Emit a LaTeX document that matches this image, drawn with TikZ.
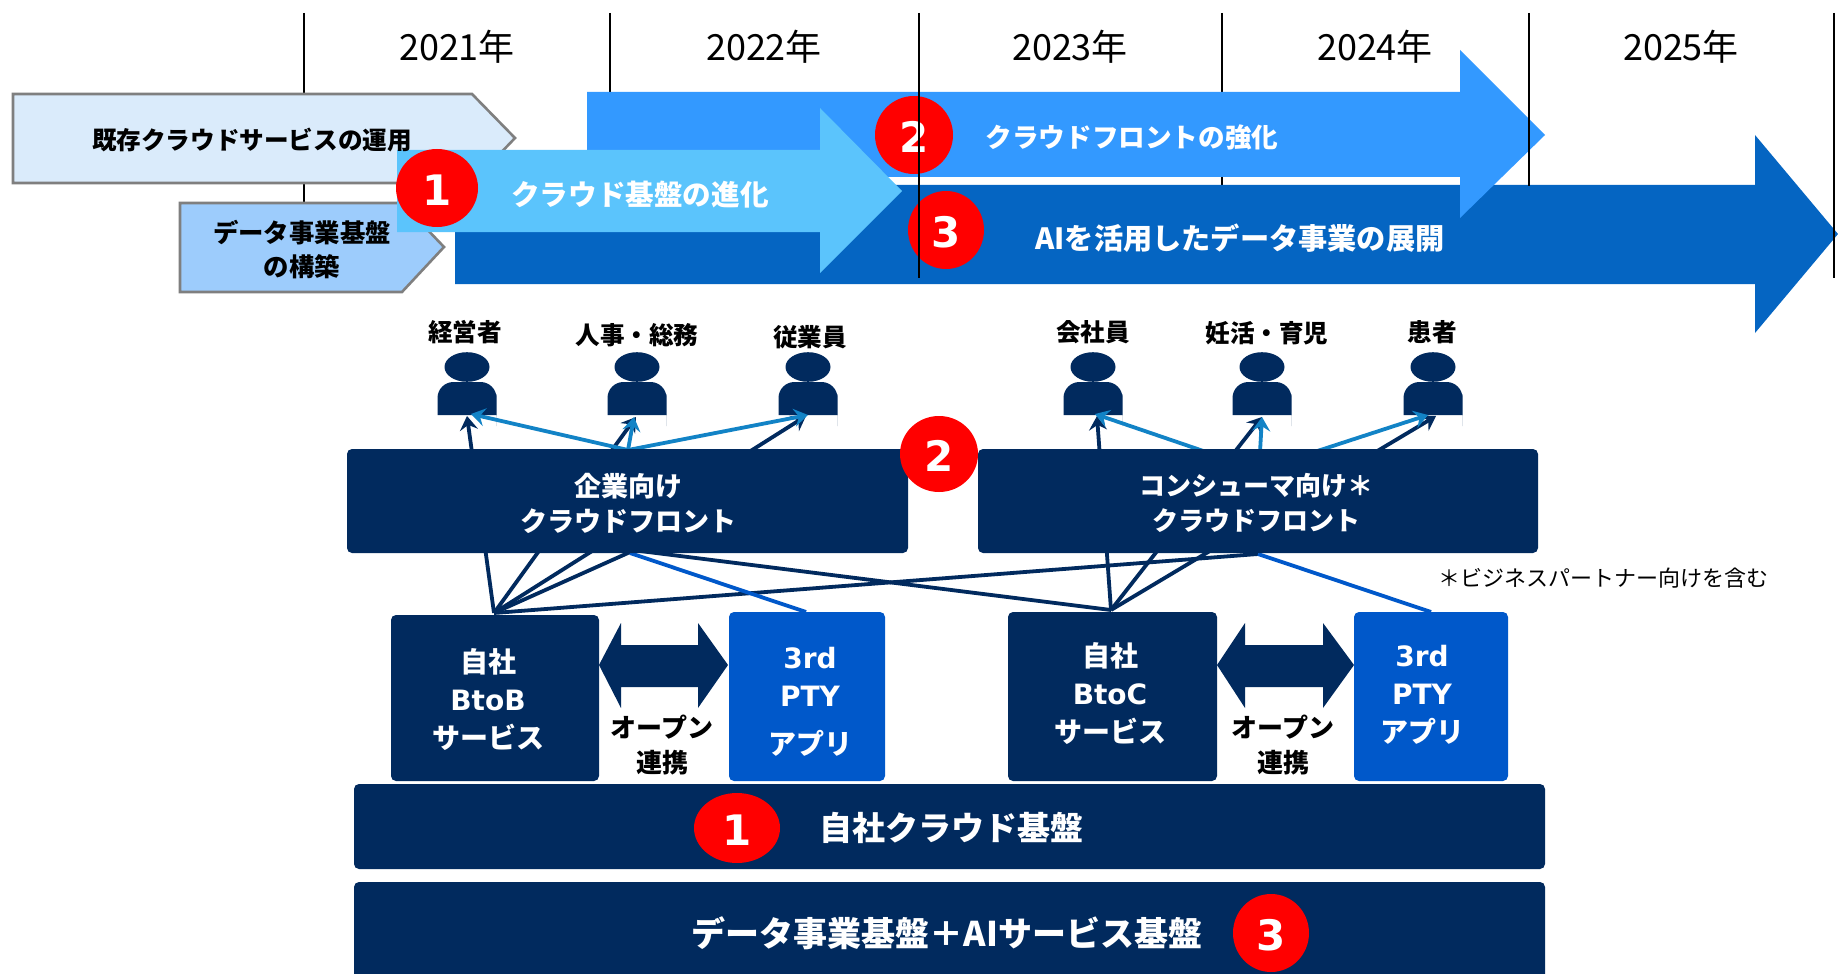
\documentclass[tikz,border=0pt]{standalone}
\usepackage{fontspec}
\setmainfont{Noto Sans CJK JP}
\newfontfamily\lat{DejaVu Sans}
\usetikzlibrary{arrows.meta}
\definecolor{navy}{HTML}{012A5E}
\definecolor{pty}{HTML}{0058CA}
\definecolor{lightarr}{HTML}{1283C6}
\definecolor{redc}{HTML}{FF0000}
\definecolor{aone}{HTML}{5BC4FC}
\definecolor{atwo}{HTML}{3399FF}
\definecolor{athree}{HTML}{0565C2}
\definecolor{boxlight}{HTML}{DAEBFB}
\definecolor{boxdata}{HTML}{9DCCFC}
\definecolor{edgegray}{HTML}{7F7F7F}
\begin{document}
\begin{tikzpicture}[x=0.5pt,y=-0.5pt,
  yearline/.style={black,line width=0.75pt},
  yearlbl/.style={font=\fontsize{18pt}{20pt}\selectfont,inner sep=0pt},
  wtxt/.style={text=white,font=\bfseries,align=center,inner sep=0pt},
  btxt/.style={text=black,font=\bfseries,align=center,inner sep=0pt},
  redmark/.style={fill=redc,draw=none},
  num/.style={text=white,font=\lat\bfseries\fontsize{21pt}{22pt}\selectfont,inner sep=0pt},
  navybox/.style={fill=navy,rounded corners=2.5pt},
  ptybox/.style={fill=pty,rounded corners=2.5pt},
  darkln/.style={draw=navy,line width=1.9pt},
  blueln/.style={draw=pty,line width=1.9pt},
  darkarr/.style={darkln,-{Stealth[length=7pt,width=9pt,inset=2.5pt]}},
  lightarr/.style={draw=lightarr,line width=1.9pt,-{Stealth[length=7pt,width=9pt,inset=2.5pt]}},
  person/.pic={
    \fill[navy] (0,-48) ellipse [x radius=11.25pt, y radius=7.4pt];
    \fill[navy] (-29.5,0) -- (-29.5,-5) [rounded corners=8pt] -- (-29.5,-33) -- (29.5,-33) -- (29.5,-5) [sharp corners] -- (29.5,0) -- cycle;
  }
]
\useasboundingbox (0,0) rectangle (1838,974);
\fill[white] (0,0) rectangle (1838,974);

% ---------- year lines behind ----------
\draw[yearline] (304,13) -- (304,250);
\draw[yearline] (610,13) -- (610,95);
\draw[yearline] (1222,13) -- (1222,186);

% ---------- big arrows ----------
\fill[athree] (455,185) -- (1755,185) -- (1755,135) -- (1838,234) -- (1755,333) -- (1755,284) -- (455,284) -- cycle;
\fill[atwo] (587,92) -- (1460,92) -- (1460,50) -- (1545,135) -- (1460,218) -- (1460,177) -- (587,177) -- cycle;
\filldraw[fill=boxlight,draw=edgegray,line width=1.3pt] (13,94) -- (472,94) -- (515,138) -- (472,183) -- (13,183) -- cycle;
\filldraw[fill=boxdata,draw=edgegray,line width=1.3pt] (180,203) -- (402,203) -- (444,247) -- (402,292) -- (180,292) -- cycle;
\fill[aone] (397,150) -- (820,150) -- (820,108) -- (902,191) -- (820,273) -- (820,232) -- (397,232) -- cycle;

\node[btxt,font=\bfseries\fontsize{12.3pt}{15pt}\selectfont] (tOps) at (252,140) {既存クラウドサービスの運用};
\node[btxt,font=\bfseries\fontsize{12.7pt}{17pt}\selectfont] (tData) at (302,250) {データ事業基盤\\の構築};
\node[wtxt,font=\bfseries\fontsize{14.3pt}{16pt}\selectfont] (tA1) at (640,195) {クラウド基盤の進化};
\node[wtxt,font=\bfseries\fontsize{13.3pt}{16pt}\selectfont] (tA2) at (1132,137) {クラウドフロントの強化};
\node[wtxt,font=\bfseries\fontsize{14.6pt}{16pt}\selectfont] (tA3) at (1240,238) {AIを活用したデータ事業の展開};

\fill[redmark] (437,188) ellipse [x radius=20.5pt, y radius=19.5pt];
\node[num] (n1a) at (437,190) {1};
\fill[redmark] (914,135) ellipse [x radius=19.5pt, y radius=19.5pt];
\node[num] (n2a) at (914,137) {2};
\fill[redmark] (946,230) ellipse [x radius=19pt, y radius=19.5pt];
\node[num] (n3a) at (946,232) {3};

% ---------- year lines on top ----------
\draw[yearline] (919,13) -- (919,278);
\draw[yearline] (1529,13) -- (1529,186);
\draw[yearline] (1834,13) -- (1834,278);

\node[yearlbl] (y2021) at (457,47) {2021年};
\node[yearlbl] (y2022) at (764,47) {2022年};
\node[yearlbl] (y2023) at (1070,47) {2023年};
\node[yearlbl] (y2024) at (1375,47) {2024年};
\node[yearlbl] (y2025) at (1681,47) {2025年};

% ---------- persons ----------
\coordinate (pA) at (467,415);
\coordinate (pB) at (637,415);
\coordinate (pC) at (808,415);
\coordinate (pD) at (1093,415);
\coordinate (pE) at (1262,415);
\coordinate (pF) at (1433,415);
\foreach \p in {pA,pB,pC,pD,pE,pF} { \pic at (\p) {person}; }
\node[btxt,font=\bfseries\fontsize{12.3pt}{14pt}\selectfont] (lA) at (465,332) {経営者};
\node[btxt,font=\bfseries\fontsize{12.3pt}{14pt}\selectfont] (lB) at (637,335) {人事・総務};
\node[btxt,font=\bfseries\fontsize{12.3pt}{14pt}\selectfont] (lC) at (810,337) {従業員};
\node[btxt,font=\bfseries\fontsize{12.3pt}{14pt}\selectfont] (lD) at (1093,332) {会社員};
\node[btxt,font=\bfseries\fontsize{12.3pt}{14pt}\selectfont] (lE) at (1267,333) {妊活・育児};
\node[btxt,font=\bfseries\fontsize{12.3pt}{14pt}\selectfont] (lF) at (1432,332) {患者};

% ---------- hubs and tips ----------
\coordinate (hubB) at (494,613);
\coordinate (hubC) at (1111,610);
\coordinate (hubE) at (628,450);
\coordinate (hubK) at (1259,470);
\coordinate (eB) at (640,551);
\coordinate (eX) at (657,540);
\coordinate (eP) at (630,553);
\coordinate (kB) at (1258,554);
\coordinate (ptyA) at (806,612);
\coordinate (ptyB) at (1431,612);
\coordinate (tA1) at (467,416);
\coordinate (tA2) at (471,414);
\coordinate (tB1) at (636,417);
\coordinate (tB2) at (634,417);
\coordinate (tC1) at (806,416);
\coordinate (tC2) at (808,415);
\coordinate (tD1) at (1097,416);
\coordinate (tD2) at (1095,414);
\coordinate (tE1) at (1262,417);
\coordinate (tE2) at (1262,417);
\coordinate (tF1) at (1436,416);
\coordinate (tF2) at (1428,415);

% connectors (behind the boxes)
\draw[darkln] (hubB) -- (eX);
\draw[darkln] (hubB) -- (kB);
\draw[darkln] (eB) -- (hubC);
\draw[blueln] (eP) -- (ptyA);
\draw[blueln] (kB) -- (ptyB);
\draw[darkarr] (hubB) -- (tA1);
\draw[darkarr] (hubB) -- (tB1);
\draw[darkarr] (hubB) -- (tC1);
\draw[lightarr] (hubE) -- (tA2);
\draw[lightarr] (hubE) -- (tB2);
\draw[lightarr] (hubE) -- (tC2);
\draw[darkarr] (hubC) -- (tD1);
\draw[darkarr] (hubC) -- (tE1);
\draw[darkarr] (hubC) -- (tF1);
\draw[lightarr] (hubK) -- (tD2);
\draw[lightarr] (hubK) -- (tE2);
\draw[lightarr] (hubK) -- (tF2);

% ---------- cloud front boxes ----------
\fill[navybox] (347,449) rectangle (908,553);
\node[wtxt,font=\bfseries\fontsize{13.5pt}{17.5pt}\selectfont] (cfE) at (628,503) {企業向け\\クラウドフロント};
\fill[navybox] (978,449) rectangle (1538,553);
\node[wtxt,font=\bfseries\fontsize{13pt}{17.5pt}\selectfont] (cfC) at (1256,503) {コンシューマ向け＊\\クラウドフロント};
\fill[redmark] (939,454) ellipse [x radius=19.5pt, y radius=19pt];
\node[num] (n2b) at (939,456) {2};
\node[anchor=west,inner sep=0pt,font=\fontsize{11pt}{13pt}\selectfont] (note) at (1438,578) {＊ビジネスパートナー向けを含む};

% ---------- service boxes ----------
\fill[navybox] (391,615) rectangle (599,781);
\node[wtxt,font=\bfseries\fontsize{14pt}{19pt}\selectfont] (svB) at (488,700) {自社\\{\lat BtoB}\\サービス};
\fill[ptybox] (729,612) rectangle (885,781);
\node[wtxt,font=\bfseries\fontsize{14pt}{19pt}\selectfont] (ptA) at (810,702) {{\lat 3rd}\\{\lat PTY}\\[5pt]アプリ};
\fill[navybox] (1008,612) rectangle (1217,781);
\node[wtxt,font=\bfseries\fontsize{14pt}{19pt}\selectfont] (svC) at (1110,694) {自社\\{\lat BtoC}\\サービス};
\fill[ptybox] (1354,612) rectangle (1508,781);
\node[wtxt,font=\bfseries\fontsize{14pt}{19pt}\selectfont] (ptB) at (1422,695) {{\lat 3rd}\\{\lat PTY}\\アプリ};

% open-link double arrows
\fill[navy] (599,665) -- (621,623) -- (621,645) -- (698,645) -- (698,623) -- (728,665) -- (698,708) -- (698,687) -- (621,687) -- (621,708) -- cycle;
\fill[navy] (1217,665) -- (1245,623) -- (1245,645) -- (1323,645) -- (1323,623) -- (1354,665) -- (1323,708) -- (1323,687) -- (1245,687) -- (1245,708) -- cycle;
\node[btxt,font=\bfseries\fontsize{13pt}{17.5pt}\selectfont] (olA) at (662,745) {オープン\\連携};
\node[btxt,font=\bfseries\fontsize{13pt}{17.5pt}\selectfont] (olB) at (1283,745) {オープン\\連携};

% ---------- platforms ----------
\fill[navybox] (354,784) rectangle (1545,869);
\fill[redmark] (737,828) ellipse [x radius=21.5pt, y radius=17.5pt];
\node[num] (n1b) at (737,830) {1};
\node[wtxt,font=\bfseries\fontsize{16.5pt}{18pt}\selectfont] (plat) at (951,828) {自社クラウド基盤};
\fill[navybox] (354,882) rectangle (1545,1000);
\node[wtxt,font=\bfseries\fontsize{17pt}{18pt}\selectfont] (dplat) at (947,933) {データ事業基盤＋AIサービス基盤};
\fill[redmark] (1271,933) ellipse [x radius=19pt, y radius=19.5pt];
\node[num] (n3b) at (1271,935) {3};
\end{tikzpicture}
\end{document}
